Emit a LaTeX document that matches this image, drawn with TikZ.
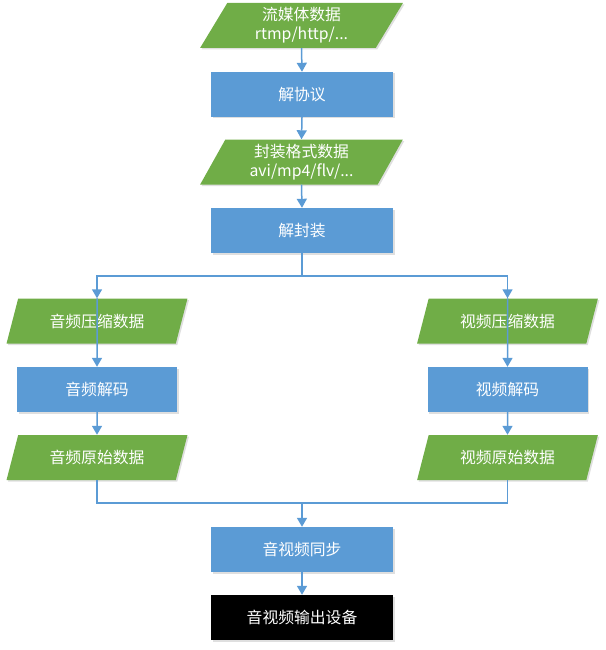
\documentclass[tikz,border=0pt]{standalone}
\usepackage{fontspec}
\newfontfamily\cjk{Noto Sans CJK SC}
\usetikzlibrary{shapes.geometric,arrows.meta,shadows}
\definecolor{flowblue}{HTML}{5B9BD5}
\definecolor{flowgreen}{HTML}{70AD47}
\tikzset{
  procbox/.style={rectangle, fill=flowblue, minimum width=182pt, minimum height=45pt, inner sep=0pt,
    text=white, font=\cjk\fontsize{15.8}{21}\selectfont, align=center,
    drop shadow={shadow xshift=1.5pt, shadow yshift=-1.5pt, opacity=0.25, fill=gray}},
  sidebox/.style={procbox, minimum width=160pt},
  outbox/.style={procbox, fill=black},
  databox/.style={trapezium, trapezium left angle=64.5, trapezium right angle=115.5, trapezium stretches=true,
    fill=flowgreen, minimum width=203pt, minimum height=45pt, inner sep=0pt,
    text=white, font=\cjk\fontsize{15.8}{21}\selectfont, align=center,
    drop shadow={shadow xshift=1.5pt, shadow yshift=-1.5pt, opacity=0.25, fill=gray}},
  sidedata/.style={databox, minimum width=181pt},
  conn/.style={draw=flowblue, line width=1.5pt, -{Triangle[width=10pt,length=9pt]}},
  plainconn/.style={draw=flowblue, line width=1.5pt}
}
\begin{document}
\begin{tikzpicture}[x=1pt,y=-1pt]
\useasboundingbox (0,0) rectangle (605,650);
\node[databox] (stream) at (301.5,25.5) {\raisebox{-5pt}{\shortstack{流媒体数据\\[2pt]rtmp/http/...}}};
\node[procbox] (proto) at (302,94.5) {解协议};
\node[databox] (fmt) at (301.5,162) {\raisebox{-5pt}{\shortstack{封装格式数据\\[2pt]avi/mp4/flv/...}}};
\node[procbox] (demux) at (302,230.5) {解封装};
\coordinate (branch) at (302,276);
\node[sidedata] (acomp) at (97,321) {音频压缩数据};
\node[sidebox] (adec) at (97,389.5) {音频解码};
\node[sidedata] (araw) at (97,457.5) {音频原始数据};
\node[sidedata] (vcomp) at (507.5,321) {视频压缩数据};
\node[sidebox] (vdec) at (507.5,389.5) {视频解码};
\node[sidedata] (vraw) at (507.5,457.5) {视频原始数据};
\coordinate (merge) at (302,503);
\node[procbox] (sync) at (302,549.5) {音视频同步};
\node[outbox] (out) at (302,617.5) {音视频输出设备};

\draw[conn] (stream.south) -- (proto.north);
\draw[conn] (proto.south) -- (fmt.north);
\draw[conn] (fmt.south) -- (demux.north);
\draw[plainconn] (demux.south) -- (branch);
\draw[conn] (branch) -| (acomp.north);
\draw[conn] (branch) -| (vcomp.north);
\draw[conn] (acomp.north) -- (adec.north);
\draw[conn] (vcomp.north) -- (vdec.north);
\draw[conn] (adec.south) -- (araw.north);
\draw[conn] (vdec.south) -- (vraw.north);
\draw[plainconn] (araw.south) |- (merge);
\draw[plainconn] (vraw.south) |- (merge);
\draw[conn] (merge) -- (sync.north);
\draw[conn] (sync.south) -- (out.north);
\end{tikzpicture}
\end{document}
